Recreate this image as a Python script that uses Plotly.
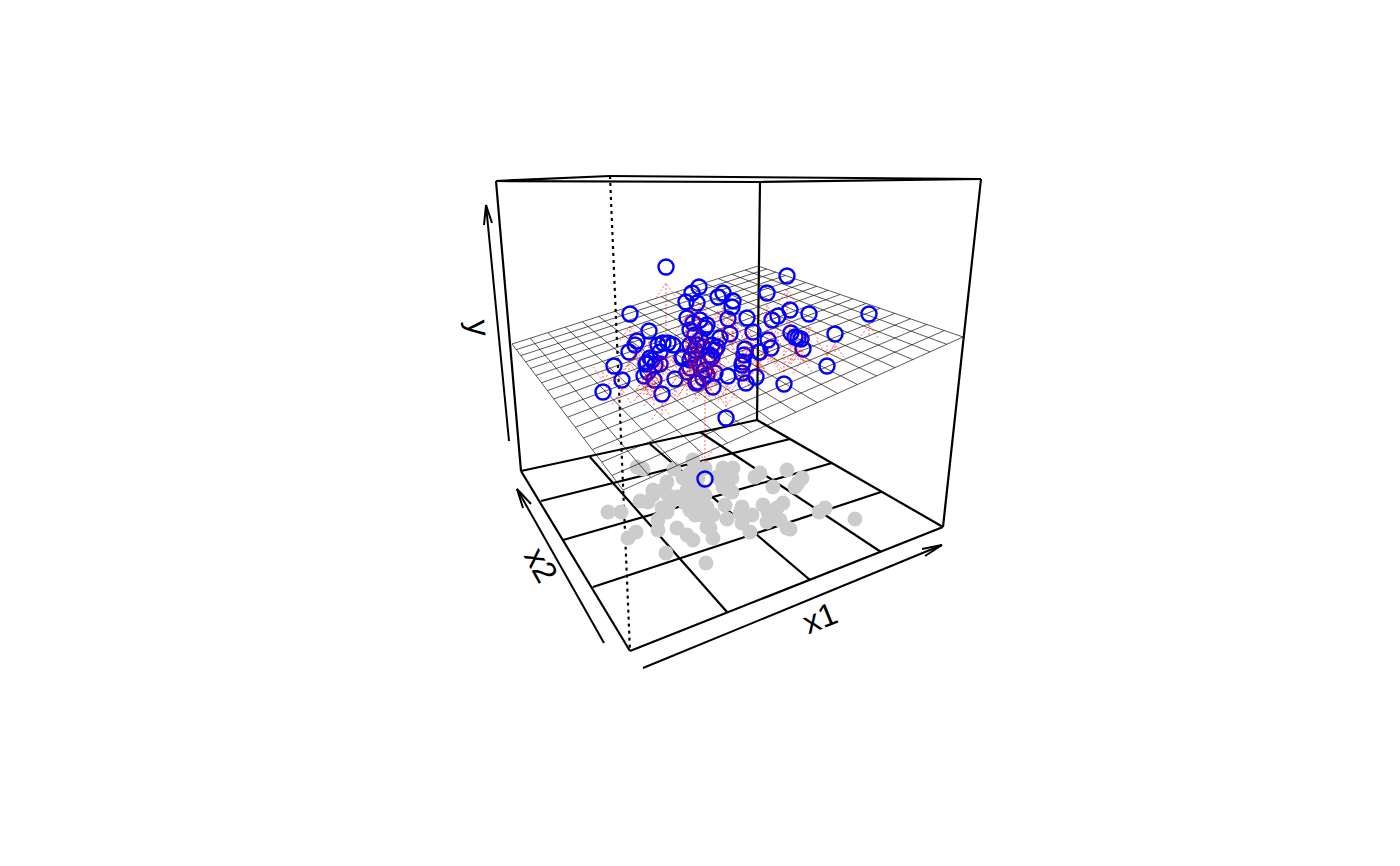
import numpy as np
import plotly.graph_objects as go

# observed points as seen on the plot
blue_x = [666,699,630,649,686,692,697,718,723,733,732,728,730,687,693,700,707,637,635,629,614,603,622,
          658,663,668,673,683,690,697,703,710,720,715,647,652,660,644,654,662,675,687,696,698,713,728,746,
          756,742,726,682,712,715,707,703,743,745,760,717,787,767,869,809,790,778,772,747,753,768,771,759,
          791,795,798,801,803,835,827,784,744,742,690,695,690,695,692,700,705,708,690,705,700,712,648,650,
          655,646,660,705]
blue_y = [267,287,314,331,302,293,303,297,293,301,307,319,334,318,323,320,325,341,345,352,366,392,380,
          345,343,343,345,357,360,345,347,355,338,350,363,360,364,376,380,394,379,372,383,382,387,376,383,
          377,373,418,358,357,373,375,378,362,349,352,347,276,293,314,314,310,316,320,318,332,340,348,352,
          333,337,338,339,349,334,366,384,355,365,330,335,345,350,355,365,370,360,368,328,340,345,372,358,
          365,364,352,479]
plane_y = [338,345,348,352,360,355,360,350,350,345,345,350,345,355,360,355,360,365,360,370,385,372,395,
           375,375,375,375,385,385,375,375,380,370,378,395,392,395,395,405,415,400,395,380,380,372,390,365,
           360,360,385,385,385,385,388,388,350,340,375,375,327,335,335,345,350,350,348,352,358,360,362,370,
           360,360,360,360,362,352,345,350,380,385,365,365,375,378,380,388,388,385,390,360,372,372,395,385,
           390,390,380,392]

# points projected on the floor
grey_x = [637,643,608,621,628,636,666,706,674,667,653,640,648,653,668,670,662,667,658,658,677,687,693,707,
          713,713,727,725,695,702,707,685,690,693,690,690,700,705,687,693,700,723,733,717,722,732,732,723,
          705,695,690,760,755,787,773,802,795,798,825,819,855,783,777,763,768,767,780,790,787,742,752,740,
          742,750,710,703,728,683,698,678,663]
grey_y = [467,469,512,512,538,532,553,563,469,482,490,501,502,495,495,503,508,512,520,530,528,535,540,527,
          538,515,519,505,515,515,507,503,500,460,473,483,490,495,490,497,503,468,468,477,482,478,492,487,
          468,468,510,473,477,470,487,478,487,483,508,512,519,503,508,505,512,522,520,529,528,507,515,513,
          523,532,528,513,490,478,478,497,490]

# box corners
box_x = [496, 610, 981, 760, 521, 630, 943, 757]
box_y = [181, 176, 179, 182, 471, 651, 527, 420]

# floor grid ends
floor_a_x = [541, 563, 593, 590, 650, 700]
floor_a_y = [501, 540, 587, 457, 444, 432]
floor_b_x = [790, 832, 881, 727, 810, 881]
floor_b_y = [439, 463, 492, 612, 580, 552]

# fitted plane corners: left, back, right, front
plane_x = [512, 758, 963, 623]
plane_y_corner = [344, 266, 337, 490]
plane_cells = 16

# axis arrows: start, tip, barb, barb
x1_arrow_x = [643, 942, 922, 942, 925]
x1_arrow_y = [668, 545, 549, 545, 556]
x2_arrow_x = [604, 517, 523, 517, 531]
x2_arrow_y = [643, 489, 508, 489, 504]
y_arrow_x = [509, 486, 484, 486, 492]
y_arrow_y = [441, 205, 225, 205, 223]


def seg_trace(x0, y0, x1, y1, **line):
    xs, ys = [], []
    for a, b, c, d in zip(x0, y0, x1, y1):
        xs += [a, c, None]
        ys += [b, d, None]
    return go.Scatter(x=xs, y=ys, mode="lines", line=line, hoverinfo="skip", showlegend=False)


def homography(sx, sy):
    src = [(0, 0), (1, 0), (1, 1), (0, 1)]
    A, b = [], []
    for (u, v), x, y in zip(src, sx, sy):
        A.append([u, v, 1, 0, 0, 0, -u * x, -v * x]); b.append(x)
        A.append([0, 0, 0, u, v, 1, -u * y, -v * y]); b.append(y)
    return np.append(np.linalg.solve(np.array(A, float), np.array(b, float)), 1).reshape(3, 3)


H = homography(plane_x, plane_y_corner)


def pm(u, v):
    p = H @ np.array([u, v, 1.0])
    return p[0] / p[2], p[1] / p[2]


gx, gy = [], []
ticks = np.linspace(0, 1, plane_cells + 1)
for t in ticks:
    for a, b in [(pm(t, 0), pm(t, 1)), (pm(0, t), pm(1, t))]:
        gx += [a[0], b[0], None]
        gy += [a[1], b[1], None]

# residual arrows from plane to point
rx, ry = [], []
for bx, by, py in zip(blue_x, blue_y, plane_y):
    s = 1 if py > by else -1
    tip = by + s * (8 + 0.11 * abs(py - by))
    rx += [bx, bx, None, bx - 10, bx, bx + 10, None]
    ry += [py, tip, None, tip + s * 15, tip, tip + s * 15, None]

fig = go.Figure()
c = dict(zip("abcdefgh", zip(box_x, box_y)))
edges = ["ad", "dc", "ab", "bc", "ae", "cg", "dh", "ef", "fg", "gh", "he"]
fig.add_trace(seg_trace([c[e[0]][0] for e in edges], [c[e[0]][1] for e in edges],
                        [c[e[1]][0] for e in edges], [c[e[1]][1] for e in edges], color="black", width=2.2))
fig.add_trace(seg_trace([c["b"][0]], [c["b"][1]], [c["f"][0]], [c["f"][1]], color="black", width=2.2, dash="3px,4px"))
fig.add_trace(seg_trace(floor_a_x, floor_a_y, floor_b_x, floor_b_y, color="black", width=2.2))
for ax, ay in [(x1_arrow_x, x1_arrow_y), (x2_arrow_x, x2_arrow_y), (y_arrow_x, y_arrow_y)]:
    fig.add_trace(go.Scatter(x=ax[:2] + [None] + ax[2:], y=ay[:2] + [None] + ay[2:], mode="lines",
                             line=dict(color="black", width=2), hoverinfo="skip", showlegend=False))
fig.add_trace(go.Scatter(x=grey_x, y=grey_y, mode="markers", showlegend=False,
                         marker=dict(color="#CCCCCC", size=15, line=dict(width=0))))
fig.add_trace(go.Scatter(x=gx, y=gy, mode="lines", line=dict(color="#111111", width=0.7),
                         hoverinfo="skip", showlegend=False))
fig.add_trace(go.Scatter(x=blue_x, y=blue_y, mode="markers", showlegend=False,
                         marker=dict(symbol="circle-open", color="#0000FF", size=15, line=dict(width=2.4, color="#0000FF"))))
fig.add_trace(go.Scatter(x=rx, y=ry, mode="lines", line=dict(color="#FF0000", width=0.6, dash="2px,2px"),
                         hoverinfo="skip", showlegend=False))

font = dict(family="Liberation Sans", size=32, color="black")
for txt, x, y, ang in [("x1", 820, 618, -22), ("x2", 541, 565, 61), ("y", 479, 328, 85)]:
    fig.add_annotation(x=x, y=y, text=txt, textangle=ang, showarrow=False, font=font, xref="x", yref="y")

fig.update_xaxes(range=[0, 1400], visible=False)
fig.update_yaxes(range=[866, 0], visible=False)
fig.update_layout(width=1400, height=866, margin=dict(l=0, r=0, t=0, b=0), autosize=False,
                  plot_bgcolor="white", paper_bgcolor="white", showlegend=False)
fig.write_html("out.html", post_script="document.body.style.margin='0';", config=dict(displayModeBar=False))
